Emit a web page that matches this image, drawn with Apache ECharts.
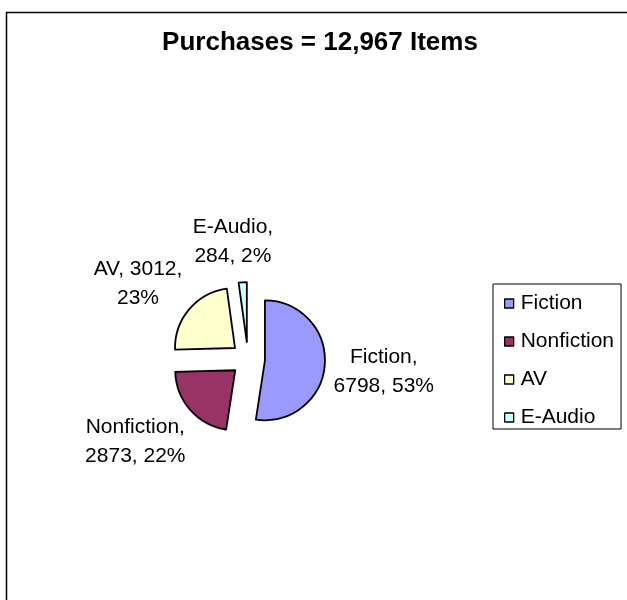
<!DOCTYPE html>
<html>
<head>
<meta charset="utf-8">
<script src="https://cdn.jsdelivr.net/npm/echarts@6/dist/echarts.min.js"></script>
<style>
html,body{margin:0;padding:0;background:#fff;}
#chart{width:627px;height:600px;}
</style>
</head>
<body>
<div id="chart"></div>
<script>
var titleText = 'Purchases = 12,967 Items';
var categories = ['Fiction', 'Nonfiction', 'AV', 'E-Audio'];
var values = [6798, 2873, 3012, 284];
var percentLabels = [53, 22, 23, 2];
var colors = ['#9999FF', '#993366', '#FFFFCC', '#CCFFFF'];

var FONT = 'Liberation Sans, Arial, sans-serif';
var LABEL_SIZE = 21;
var LINE_H = 29;
var WRAP_W = 110;
var C = [248, 359];
var R = 60;
var OFFSET = 17;
var GAP = 15;
var LABEL_SHIFT = [-6, 3];

var total = values.reduce(function (a, b) { return a + b; }, 0);

var measureCtx = document.createElement('canvas').getContext('2d');
measureCtx.font = LABEL_SIZE + 'px ' + FONT;
function wrap(text) {
  var words = text.split(' ');
  var lines = [], cur = '';
  words.forEach(function (wd) {
    var test = cur ? cur + ' ' + wd : wd;
    if (cur && measureCtx.measureText(test).width > WRAP_W) {
      lines.push(cur);
      cur = wd;
    } else {
      cur = test;
    }
  });
  if (cur) lines.push(cur);
  var w = 0;
  lines.forEach(function (l) { w = Math.max(w, measureCtx.measureText(l).width); });
  return {lines: lines, w: w, h: lines.length * LINE_H};
}

var labelGraphics = [];
(function () {
  var cum = 0;
  for (var i = 0; i < values.length; i++) {
    var a = 2 * Math.PI * (cum + values[i] / 2) / total;
    cum += values[i];
    var dx = Math.sin(a), dy = -Math.cos(a);
    var t = wrap(categories[i] + ', ' + values[i] + ', ' + percentLabels[i] + '%');
    var D = R + OFFSET + GAP;
    labelGraphics.push({
      type: 'text',
      silent: true,
      x: C[0] + LABEL_SHIFT[0] + D * dx + dx * t.w / 2,
      y: C[1] + LABEL_SHIFT[1] + D * dy + dy * t.h / 2,
      style: {
        text: t.lines.join('\n'),
        fill: '#000',
        fontFamily: FONT,
        fontSize: LABEL_SIZE,
        lineHeight: LINE_H,
        align: 'center',
        verticalAlign: 'middle'
      }
    });
  }
})();

var chart = echarts.init(document.getElementById('chart'), null, {renderer: 'canvas'});
chart.setOption({
  animation: false,
  backgroundColor: '#fff',
  graphic: [{
    type: 'rect',
    shape: {x: 6.5, y: 12.5, width: 700, height: 700},
    style: {fill: 'none', stroke: '#000', lineWidth: 1.5},
    silent: true,
    z: -1
  }].concat(labelGraphics),
  title: {
    text: titleText,
    left: 320,
    top: 30,
    textAlign: 'center',
    padding: 0,
    textStyle: {fontFamily: FONT, fontSize: 26, fontWeight: 'bold', color: '#000'}
  },
  legend: {
    orient: 'vertical',
    left: 493,
    top: 284,
    padding: [9, 7, 1, 11],
    itemGap: 17,
    itemWidth: 9,
    itemHeight: 9,
    icon: 'rect',
    borderColor: '#000',
    borderWidth: 1,
    selectedMode: false,
    data: categories,
    itemStyle: {borderColor: '#000', borderWidth: 1.3},
    textStyle: {fontFamily: FONT, fontSize: 21, color: '#000', padding: [0, 0, 0, 2]}
  },
  series: [{
    type: 'pie',
    center: C,
    radius: R,
    startAngle: 90,
    clockwise: true,
    selectedMode: 'multiple',
    selectedOffset: OFFSET,
    emphasis: {disabled: true},
    itemStyle: {borderColor: '#000', borderWidth: 1.8},
    select: {itemStyle: {borderColor: '#000', borderWidth: 1.8}},
    label: {show: false},
    labelLine: {show: false},
    data: categories.map(function (name, i) {
      return {name: name, value: values[i], selected: true, itemStyle: {color: colors[i]}};
    })
  }]
});
</script>
</body>
</html>
